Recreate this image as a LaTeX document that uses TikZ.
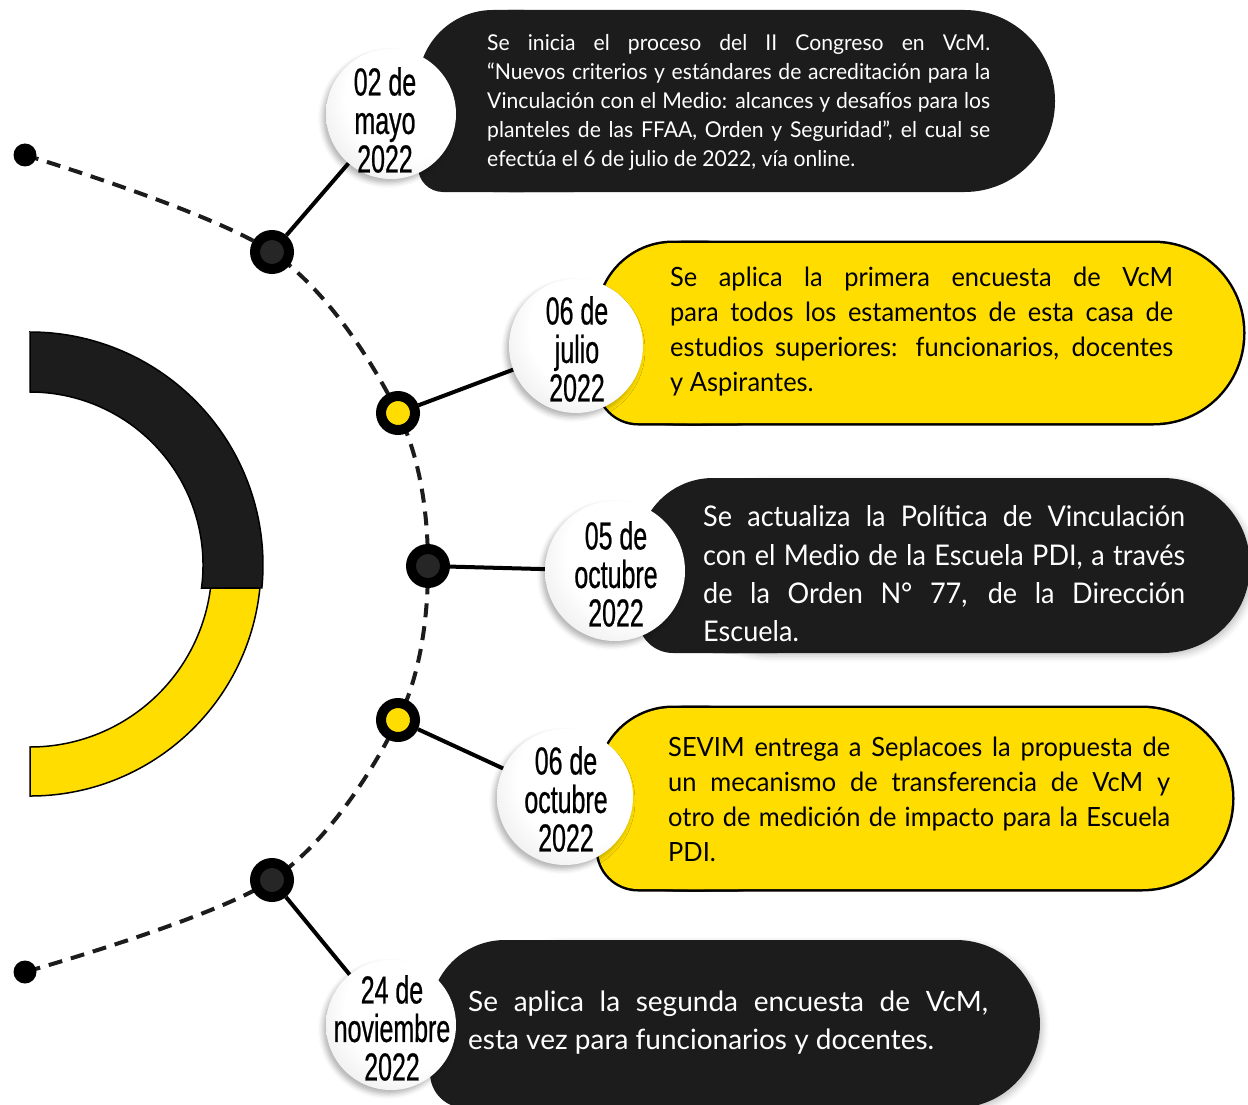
\documentclass[tikz,border=0pt]{standalone}
\usepackage{fontspec}
\setmainfont{Lato}
\newfontfamily\datefont{Liberation Sans}[FakeStretch=0.64,FakeBold=0.6]
\newfontfamily\bodyA{Lato}[FakeStretch=0.97]
\newfontfamily\bodyB{Lato}[FakeStretch=0.96]
\newfontfamily\bodyC{Lato}[FakeStretch=0.95]
\usetikzlibrary{shadows.blur}
\definecolor{yel}{HTML}{FFDD00}
\definecolor{blk}{HTML}{1C1C1C}
\definecolor{dk}{HTML}{262626}
\pgfdeclarelayer{bg}
\pgfsetlayers{bg,main}
\pgfdeclareradialshading{bubbleshade}{\pgfpoint{10bp}{10bp}}{color(0bp)=(white); color(24bp)=(white); color(50bp)=(black!16); color(70bp)=(black!16)}
\newcommand\pill[8]{%
  \path[#1,rounded corners=#8pt] (#2,#3) rectangle (#4,#5);
  \path[#1,rounded corners=#6pt] (#2,#3) rectangle ({#2+2*#8},#5);
  \path[#1,rounded corners=#7pt] (#2,{#3+#6}) rectangle ({#2+2*#8},#5);
}
\begin{document}
\begin{tikzpicture}[x=1pt,y=-1pt,
  darknode/.style={circle,inner sep=0pt,minimum size=34pt,fill=dk,draw=black,line width=10pt},
  yelnode/.style={circle,inner sep=0pt,minimum size=34pt,fill=yel,draw=black,line width=10pt},
  enddot/.style={circle,inner sep=0pt,minimum size=23pt,fill=black},
  bubble/.style={circle,inner sep=0pt,minimum size=#1,shading=bubbleshade,
    blur shadow={shadow xshift=-3pt,shadow yshift=-4pt,shadow blur radius=5pt,shadow opacity=30}},
  datetxt/.style={inner sep=0pt,align=center,font=\datefont\fontsize{39}{38.5}\selectfont},
  boxshadow/.style={fill=white,blur shadow={shadow xshift=3pt,shadow yshift=-3pt,shadow blur radius=6pt,shadow opacity=22}},
  conn/.style={line width=4pt,black},
  dashline/.style={line width=4pt,color=blk,dash pattern=on 14pt off 9pt},
  txtnode/.style={inner sep=0pt,anchor=west}]
\useasboundingbox (0,0) rectangle (1248,1105);

% ring
\fill[blk,draw=black,line width=1.5pt] (30,332) arc[start angle=90,end angle=-5.66,radius=233pt]
  -- (201.5,588) arc[start angle=-7.64,end angle=90,radius=173pt] -- cycle;
\fill[yel,draw=black,line width=1.5pt] (259.9,588) arc[start angle=-5.71,end angle=-90,radius=231pt]
  -- (30,747) arc[start angle=-90,end angle=-7.26,radius=182pt] -- cycle;

% boxes
\pill{fill=blk}{418}{10}{1055}{192}{75}{25}{90.5}
\pill{draw=black,line width=5pt}{598}{243}{1243}{423}{75}{40}{89.5}
\pill{fill=yel}{598}{243}{1243}{423}{75}{40}{89.5}
\path[boxshadow,rounded corners=87pt] (680,478) rectangle (1250,653);
\pill{fill=blk}{638}{478}{1250}{653}{75}{35}{87}
\pill{draw=black,line width=5pt}{598}{708}{1232}{889}{75}{40}{90}
\pill{fill=yel}{598}{708}{1232}{889}{75}{40}{90}
\path[boxshadow,rounded corners=84pt] (480,940) rectangle (1040,1108);
\pill{fill=blk}{430}{940}{1040}{1108}{75}{35}{84}

% box texts
\node[txtnode,text=white] (t1) at (487,102) {\parbox{503pt}{\bodyA\fontsize{21.8}{29}\selectfont
Se inicia el proceso del II Congreso en VcM.\linebreak
“Nuevos criterios y estándares de acreditación para la\linebreak
Vinculación con el Medio: alcances y desafíos para los\linebreak
planteles de las FFAA, Orden y Seguridad”, el cual se\linebreak
efectúa el 6 de julio de 2022, vía online.}};
\node[txtnode,text=black] (t2) at (670,332) {\parbox{503pt}{\bodyB\fontsize{26.5}{35}\selectfont
Se aplica la primera encuesta de VcM\linebreak
para todos los estamentos de esta casa de\linebreak
estudios superiores: funcionarios, docentes\linebreak
y Aspirantes.}};
\node[txtnode,text=white] (t3) at (703,574) {\parbox{482pt}{\bodyC\fontsize{28.5}{38.3}\selectfont
Se actualiza la Política de Vinculación\linebreak
con el Medio de la Escuela PDI, a través\linebreak
de la Orden N° 77, de la Dirección\linebreak
Escuela.}};
\node[txtnode,text=black] (t4) at (668,799) {\parbox{502pt}{\bodyB\fontsize{26.5}{35}\selectfont
SEVIM entrega a Seplacoes la propuesta de\linebreak
un mecanismo de transferencia de VcM y\linebreak
otro de medición de impacto para la Escuela\linebreak
PDI.}};
\node[txtnode,text=white] (t5) at (468,1023) {\parbox{520pt}{\fontsize{28}{38}\selectfont
Se aplica la segunda encuesta de VcM,\linebreak
esta vez para funcionarios y docentes.}};

% date bubbles
\node[bubble=130pt] (d1) at (391,114) {};
\node[bubble=134pt] (d2) at (576,346) {};
\node[bubble=140pt] (d3) at (615,571) {};
\node[bubble=136pt] (d4) at (565,797) {};
\node[bubble=130pt] (d5) at (391,1025) {};
\node[datetxt] (l1) at (385,120) {02 de\\mayo\\2022};
\node[datetxt] (l2) at (577,349) {06 de\\julio\\2022};
\node[datetxt] (l3) at (616,574) {05 de\\octubre\\2022};
\node[datetxt] (l4) at (566,799) {06 de\\octubre\\2022};
\node[datetxt] (l5) at (392,1028) {24 de\\noviembre\\2022};

% timeline nodes
\node[enddot] (s1) at (25,155) {};
\node[darknode] (n1) at (272,252) {};
\node[yelnode] (n2) at (398,413) {};
\node[darknode] (n3) at (428,566) {};
\node[yelnode] (n4) at (398,720) {};
\node[darknode] (n5) at (272,880) {};
\node[enddot] (s2) at (25,972) {};

\begin{pgfonlayer}{bg}
\draw[dashline] plot[smooth,tension=0.55] coordinates {(s1.center) (n1.center) (n2.center) (n3.center) (n4.center) (n5.center) (s2.center)};
\end{pgfonlayer}

% connectors
\draw[conn] (n1) -- (d1);
\draw[conn] (n2) -- (d2);
\draw[conn] (n3) -- (d3);
\draw[conn] (n4) -- (d4);
\draw[conn] (n5) -- (d5);
\end{tikzpicture}
\end{document}
